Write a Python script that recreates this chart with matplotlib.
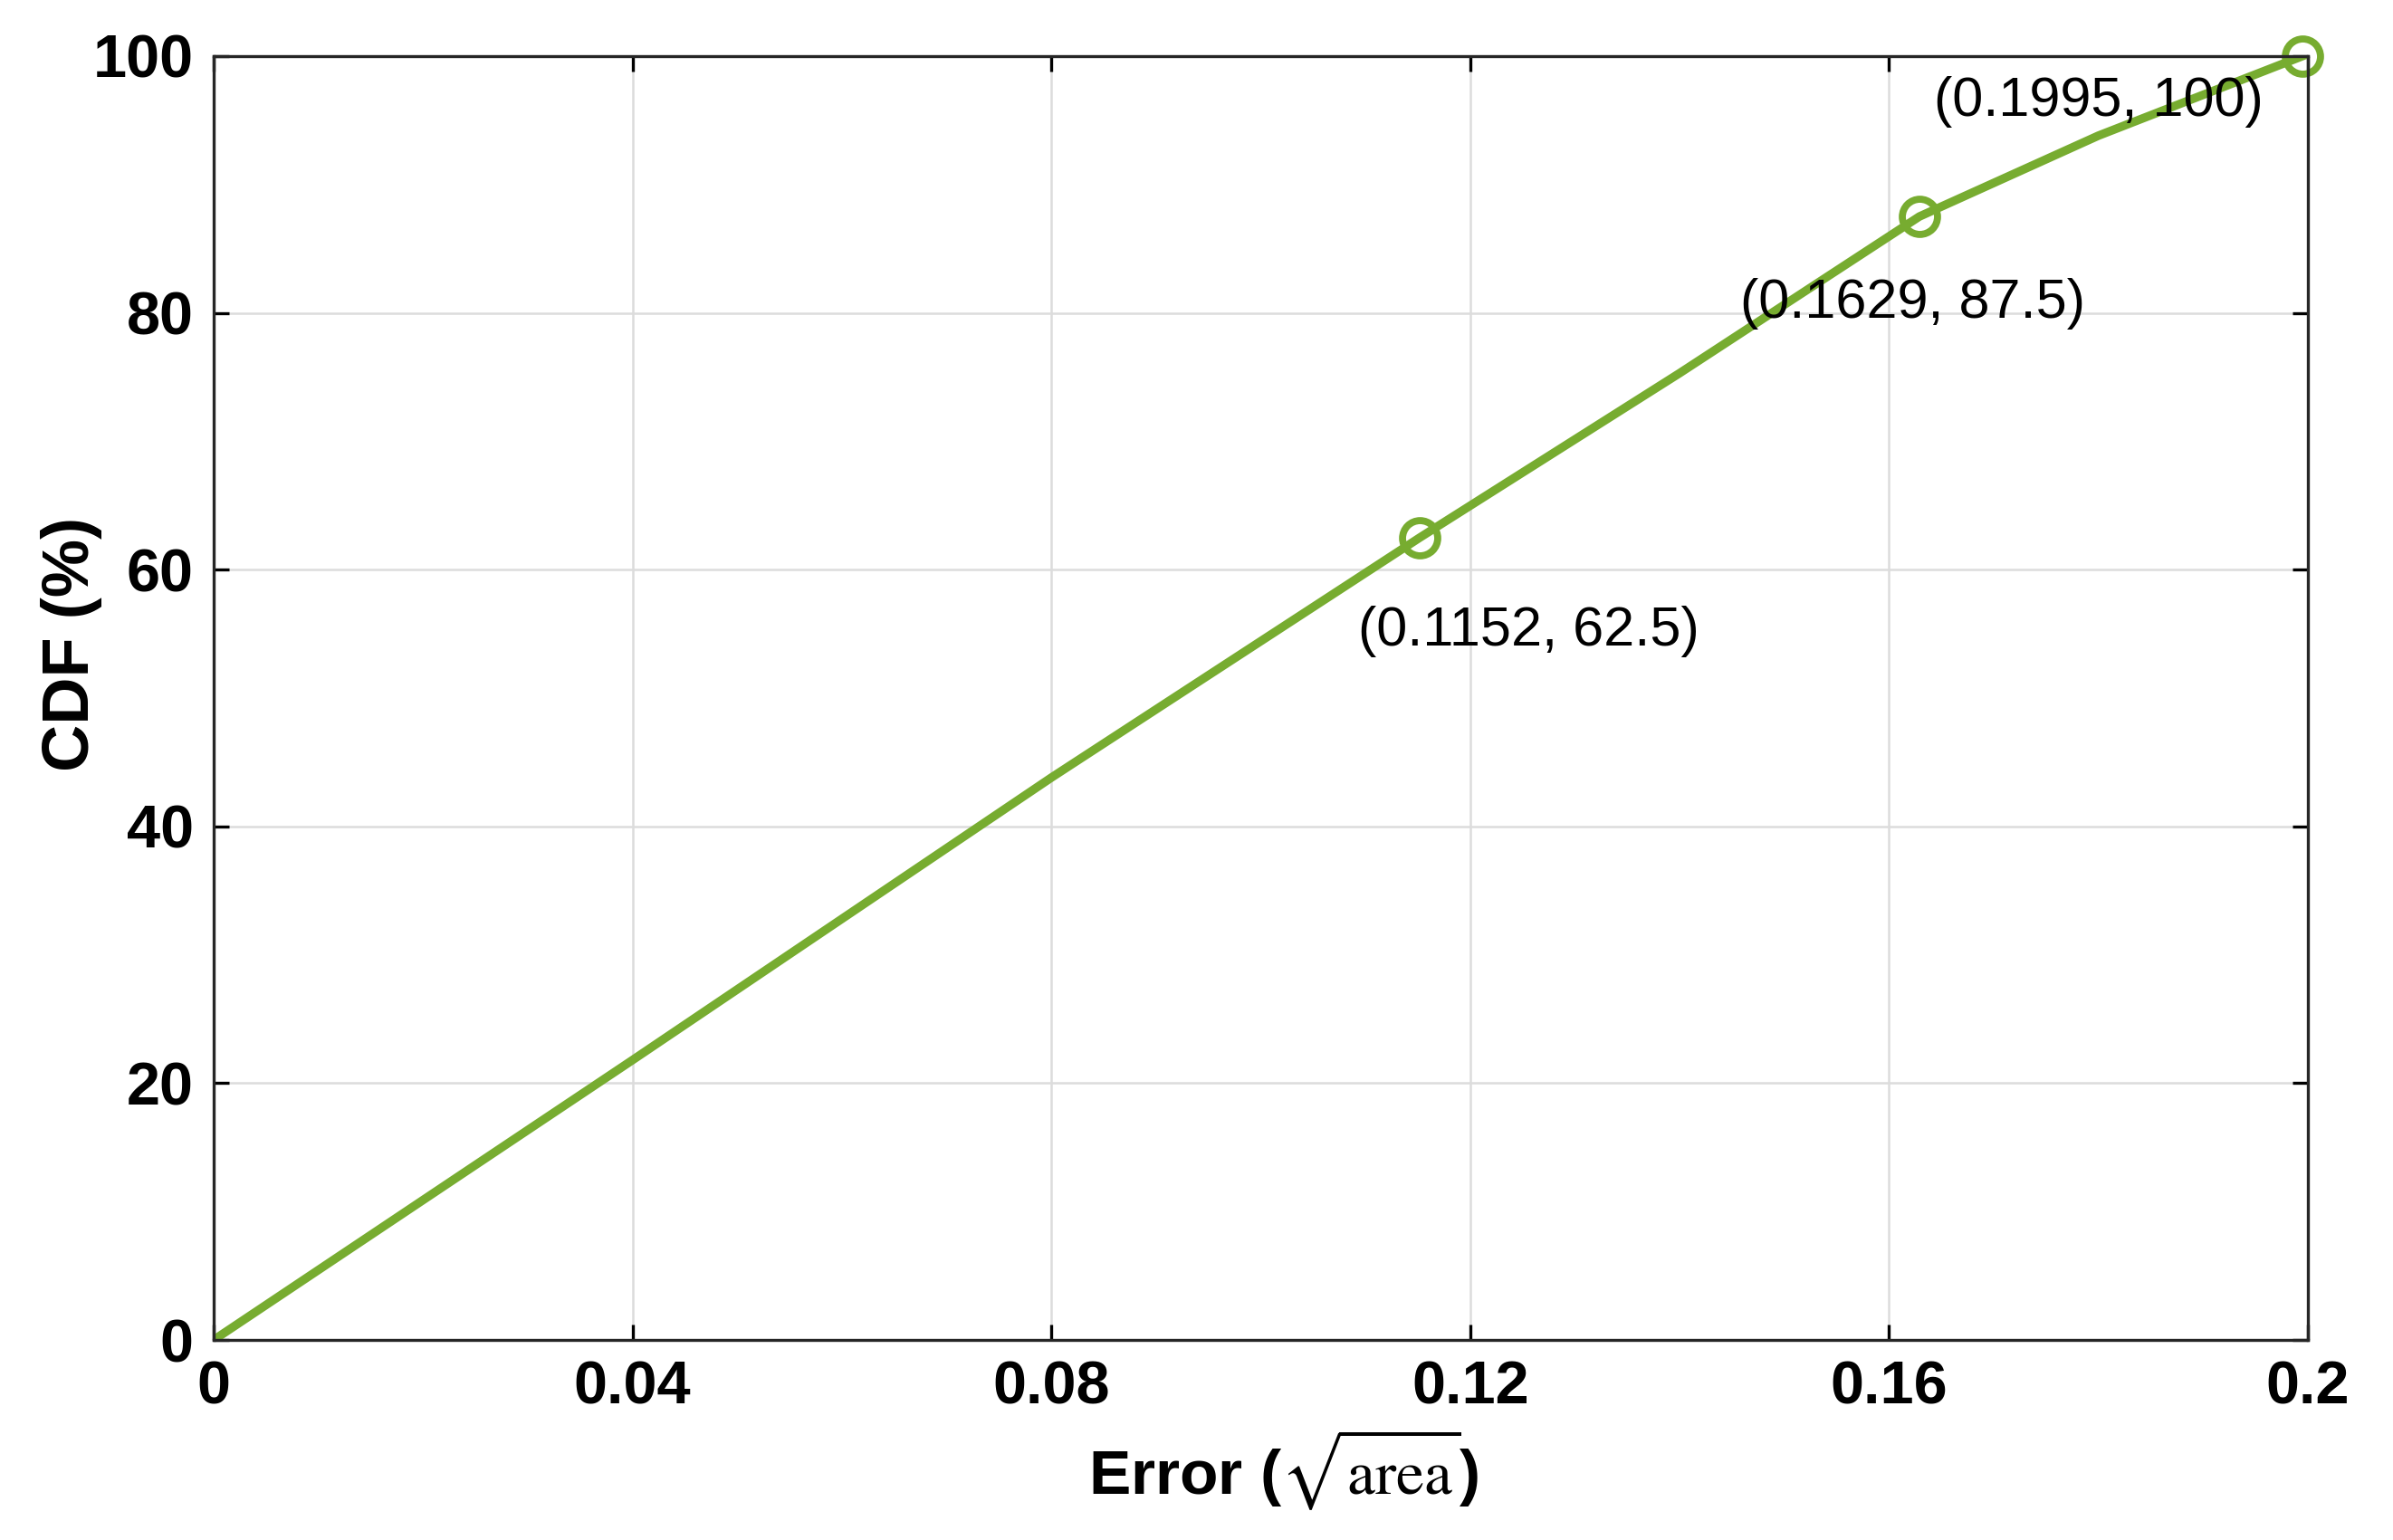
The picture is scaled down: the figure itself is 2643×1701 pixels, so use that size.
import matplotlib
matplotlib.use("Agg")
import matplotlib.pyplot as plt

# CDF of the error
err = [0, 0.04, 0.08, 0.1152, 0.14, 0.1629, 0.18, 0.1995]
cdf = [0, 21.8, 43.8, 62.5, 75.3, 87.5, 93.8, 100]
marked = [3, 5, 7]

# annotation text and where it sits (data coords, left/centre)
notes = ["(0.1152, 62.5)", "(0.1629, 87.5)", "(0.1995, 100)"]
note_x = [0.1093, 0.1458, 0.1643]
note_y = [55.2, 80.7, 96.4]

xticks = [0, 0.04, 0.08, 0.12, 0.16, 0.2]
xticklabels = ["0", "0.04", "0.08", "0.12", "0.16", "0.2"]
yticks = [0, 20, 40, 60, 80, 100]

plt.rcParams["font.family"] = ["Liberation Sans", "DejaVu Sans"]
plt.rcParams["mathtext.fontset"] = "stix"

green = "#77AC30"

fig = plt.figure(figsize=(13.215, 8.505), dpi=200)
ax = fig.add_axes([0.0893, 0.1299, 0.8751, 0.8337])

ax.plot(err, cdf, color=green, lw=3.4)
ax.plot([err[i] for i in marked], [cdf[i] for i in marked], "o",
        mfc="none", mec=green, ms=14, mew=2.8, clip_on=False)

for t, x, y in zip(notes, note_x, note_y):
    ax.text(x, y, t, fontsize=22, va="center", ha="left", color="black")

ax.set_xlim(0, 0.2)
ax.set_ylim(0, 100)
ax.set_xticks(xticks)
ax.set_xticklabels(xticklabels)
ax.set_yticks(yticks)
ax.grid(True, color="#dcdcdc", lw=0.9)
ax.set_axisbelow(True)

ax.tick_params(direction="in", length=6, width=1.2, top=True, right=True,
               labelsize=24, pad=8)
for lab in ax.get_xticklabels() + ax.get_yticklabels():
    lab.set_fontweight("bold")
for s in ax.spines.values():
    s.set_linewidth(1.2)
    s.set_color("#262626")

ax.set_xlabel(r"Error ($\sqrt{\mathrm{area}}$)", fontsize=25,
              fontweight="bold")
ax.set_ylabel("CDF (%)", fontsize=26, fontweight="bold")
ax.xaxis.set_label_coords(0.511, -0.068)
ax.yaxis.set_label_coords(-0.053, 0.542)

fig.savefig("out.png", dpi=200)
